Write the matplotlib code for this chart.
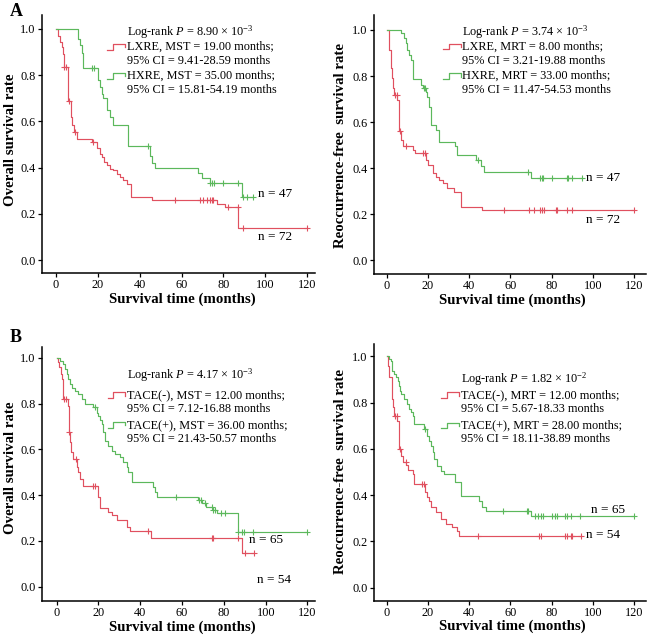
import numpy as np
import matplotlib
matplotlib.use('Agg')
import matplotlib.pyplot as plt

plt.rcParams['font.family'] = ['Liberation Serif', 'DejaVu Serif']
plt.rcParams['mathtext.fontset'] = 'custom'
plt.rcParams['mathtext.rm'] = 'Liberation Serif'
plt.rcParams['mathtext.it'] = 'Liberation Serif:italic'
plt.rcParams['mathtext.bf'] = 'Liberation Serif:bold'

# ---------------- data ----------------
# Panel A left: overall survival, LXRE (red) / HXRE (green)
a_os_lx_t = [0, 1.0, 1.9, 2.7, 3.2, 3.8, 5.9, 7.0, 7.5, 8.6, 9.9, 17.0, 19.4, 21.0, 21.8, 22.9, 24.2, 25.8,
             27.4, 29.0, 30.6, 32.2, 33.8, 35.9, 45.7, 76.8, 80.8, 87.0]
a_os_lx_s = [1.0, 0.97, 0.944, 0.92, 0.89, 0.835, 0.686, 0.62, 0.585, 0.555, 0.525, 0.51, 0.485, 0.46, 0.446,
             0.424, 0.41, 0.395, 0.388, 0.374, 0.36, 0.345, 0.33, 0.273, 0.258, 0.243, 0.228, 0.137]
a_os_lx_cens = [4.0, 5.0, 6.4, 9.1, 17.8, 57.0, 68.8, 70.4, 72.3, 73.6, 74.4, 75.2, 82.4, 86.9, 89.6, 120]
a_os_lx_end = 120

a_os_hx_t = [0, 10.4, 11.5, 12.3, 13.1, 20.2, 21.0, 21.8, 22.6, 24.2, 25.8, 27.4, 34.3, 44.9, 45.7, 47.3,
             68.0, 70.0, 73.6, 88.8]
a_os_hx_s = [1.0, 0.955, 0.93, 0.895, 0.83, 0.78, 0.75, 0.72, 0.70, 0.65, 0.62, 0.585, 0.495, 0.45, 0.42,
             0.40, 0.378, 0.354, 0.332, 0.274]
a_os_hx_cens = [17.0, 18.3, 44.1, 73.6, 74.7, 75.7, 79.7, 87.2, 89.2, 91.1, 94.3]
a_os_hx_end = 94.3

# Panel A right: recurrence-free survival
a_rfs_lx_t = [0, 1.1, 1.9, 2.7, 3.1, 3.6, 5.2, 6.0, 7.1, 8.1, 12.5, 13.6, 18.9, 20.1, 22.2, 23.8, 25.4,
              27.5, 29.4, 32.7, 35.9, 46.4]
a_rfs_lx_s = [1.0, 0.913, 0.834, 0.79, 0.747, 0.718, 0.696, 0.559, 0.522, 0.494, 0.479, 0.465, 0.436,
              0.414, 0.378, 0.363, 0.349, 0.334, 0.313, 0.298, 0.23, 0.216]
a_rfs_lx_cens = [4.0, 4.9, 6.5, 9.2, 17.8, 18.4, 56.9, 69.0, 71.5, 74.4, 75.5, 76.3, 82.0, 82.8, 87.7,
                 90.1, 120]
a_rfs_lx_end = 120

a_rfs_hx_t = [0, 6.8, 8.4, 9.2, 10.0, 10.8, 11.6, 12.5, 12.9, 16.8, 17.8, 18.9, 19.7, 20.5, 21.3, 21.7,
              23.8, 25.4, 33.2, 34.3, 43.5, 45.6, 47.2, 69.9]
a_rfs_hx_s = [1.0, 0.986, 0.964, 0.942, 0.913, 0.891, 0.87, 0.841, 0.787, 0.761, 0.747, 0.732, 0.71,
              0.667, 0.631, 0.588, 0.566, 0.515, 0.494, 0.457, 0.435, 0.407, 0.385, 0.356]
a_rfs_hx_cens = [17.9, 18.5, 44.3, 68.5, 74.5, 75.2, 76.0, 80.0, 87.3, 88.2, 89.7, 94.6]
a_rfs_hx_end = 94.6

# Panel B left: overall survival, TACE(-) (red) / TACE(+) (green)
b_os_neg_t = [0, 0.8, 1.3, 1.9, 2.4, 3.2, 5.3, 5.8, 6.4, 6.9, 7.7, 9.9, 10.4, 11.2, 12.5, 19.6, 20.7,
              24.7, 26.3, 28.7, 33.5, 35.1, 45.0, 88.5]
b_os_neg_s = [1.0, 0.98, 0.958, 0.93, 0.907, 0.82, 0.79, 0.674, 0.63, 0.587, 0.557, 0.521, 0.499, 0.47,
              0.44, 0.39, 0.345, 0.328, 0.313, 0.291, 0.262, 0.245, 0.215, 0.147]
b_os_neg_cens = [3.5, 4.6, 6.1, 9.2, 17.6, 18.5, 43.9, 74.2, 75.0, 87.0, 90.2, 94.3]
b_os_neg_end = 94.3

b_os_pos_t = [0, 1.6, 3.2, 4.0, 4.8, 5.6, 6.4, 7.2, 8.8, 10.4, 12.0, 13.6, 17.6, 19.1, 19.9, 20.7, 21.5,
              22.3, 23.1, 24.7, 26.3, 27.9, 30.3, 31.9, 33.5, 34.3, 35.9, 46.3, 47.1, 47.9, 67.8, 69.4,
              71.5, 75.0, 76.6, 87.0]
b_os_pos_s = [1.0, 0.987, 0.972, 0.95, 0.929, 0.907, 0.885, 0.87, 0.856, 0.84, 0.82, 0.80, 0.783, 0.76,
              0.747, 0.73, 0.71, 0.674, 0.638, 0.616, 0.594, 0.58, 0.565, 0.543, 0.521, 0.50, 0.456,
              0.434, 0.412, 0.393, 0.378, 0.364, 0.35, 0.335, 0.32, 0.237]
b_os_pos_cens = [18.4, 57.0, 68.1, 68.9, 71.2, 74.2, 75.0, 75.8, 78.5, 80.6, 87.0, 88.6, 89.7, 94.1, 120]
b_os_pos_end = 120

# Panel B right: recurrence-free survival
b_rfs_neg_t = [0, 0.8, 1.3, 2.4, 2.7, 3.1, 3.6, 5.2, 6.0, 7.1, 8.1, 9.5, 10.5, 12.5, 13.3, 18.6, 19.7,
               20.5, 21.7, 24.0, 26.2, 28.6, 31.5, 34.3, 35.1]
b_rfs_neg_s = [1.0, 0.96, 0.909, 0.859, 0.816, 0.78, 0.744, 0.722, 0.60, 0.571, 0.542, 0.53, 0.51, 0.491,
               0.448, 0.412, 0.39, 0.376, 0.35, 0.326, 0.297, 0.275, 0.263, 0.246, 0.225]
b_rfs_neg_cens = [4.0, 4.9, 6.5, 9.2, 17.3, 18.3, 44.3, 74.1, 74.7, 86.5, 87.5, 89.2, 89.8, 94.3]
b_rfs_neg_end = 94.3

b_rfs_pos_t = [0, 1.3, 1.9, 2.7, 3.6, 4.4, 5.5, 6.0, 6.5, 7.1, 8.4, 9.7, 10.8, 12.0, 12.9, 13.3, 18.1,
               19.7, 20.5, 21.3, 22.2, 23.0, 24.6, 26.2, 27.8, 33.2, 35.9, 44.8, 46.4, 48.0, 69.9]
b_rfs_pos_s = [1.0, 0.988, 0.981, 0.938, 0.924, 0.909, 0.895, 0.873, 0.852, 0.837, 0.816, 0.794, 0.772,
               0.758, 0.744, 0.707, 0.686, 0.657, 0.635, 0.614, 0.585, 0.556, 0.527, 0.506, 0.491, 0.455,
               0.398, 0.376, 0.347, 0.333, 0.311]
b_rfs_pos_cens = [18.5, 56.6, 68.0, 68.8, 72.0, 73.5, 74.8, 76.0, 80.0, 81.5, 82.8, 86.5, 87.3, 89.2,
                  93.8, 120]
b_rfs_pos_end = 120

x_ticks = [0, 20, 40, 60, 80, 100, 120]
y_ticks = [0.0, 0.2, 0.4, 0.6, 0.8, 1.0]

# legend texts
a_os_text = ["Log-rank $\\mathit{P}$ = 8.90 × 10$^{-3}$",
             "LXRE, MST = 19.00 months;", "95% CI = 9.41-28.59 months",
             "HXRE, MST = 35.00 months;", "95% CI = 15.81-54.19 months"]
a_rfs_text = ["Log-rank $\\mathit{P}$ = 3.74 × 10$^{-3}$",
              "LXRE, MRT = 8.00 months;", "95% CI = 3.21-19.88 months",
              "HXRE, MRT = 33.00 months;", "95% CI = 11.47-54.53 months"]
b_os_text = ["Log-rank $\\mathit{P}$ = 4.17 × 10$^{-3}$",
             "TACE(-), MST = 12.00 months;", "95% CI = 7.12-16.88 months",
             "TACE(+), MST = 36.00 months;", "95% CI = 21.43-50.57 months"]
b_rfs_text = ["Log-rank $\\mathit{P}$ = 1.82 × 10$^{-2}$",
              "TACE(-), MRT = 12.00 months;", "95% CI = 5.67-18.33 months",
              "TACE(+), MRT = 28.00 months;", "95% CI = 18.11-38.89 months"]

RED = '#e0505f'
GREEN = '#5cb85c'

fig = plt.figure(figsize=(6.48, 6.38), dpi=100)


def add_axes(l, t, r, b):
    return fig.add_axes([l / 648, 1 - b / 638, (r - l) / 648, (b - t) / 638])


def km(ax, t, s, end, cens, color):
    t = np.asarray(t, float)
    s = np.asarray(s, float)
    tt = np.append(t, end)
    ss = np.append(s, s[-1])
    ax.step(tt, ss, where='post', color=color, lw=0.85, zorder=3)
    c = np.asarray(cens, float)
    idx = np.searchsorted(t, c, side='right') - 1
    ax.plot(c, s[idx], ls='none', marker='+', ms=4.5, mew=0.8, color=color, zorder=4)


def style(ax, xlim, ylim, ylabel, ylab_xy, xlab_xy):
    ax.set_xlim(*xlim)
    ax.set_ylim(*ylim)
    for sp in ['top', 'right']:
        ax.spines[sp].set_visible(False)
    for sp in ['left', 'bottom']:
        ax.spines[sp].set_linewidth(1.1)
    ax.set_xticks(x_ticks)
    ax.set_yticks(y_ticks)
    ax.set_yticklabels([f"{v:.1f}" for v in y_ticks])
    ax.tick_params(direction='out', length=3.0, width=0.9, labelsize=8.8, pad=1.5)
    ax.set_ylabel(ylabel, fontsize=10.7, fontweight='bold', va='center', ha='center')
    ax.yaxis.set_label_coords(*ylab_xy)
    ax.set_xlabel("Survival time (months)", fontsize=10.7, fontweight='bold', va='center', ha='center')
    ax.xaxis.set_label_coords(*xlab_xy)


def legend(ax, texts, tx, sx0, sx1, rows):
    for txt, y in zip(texts, rows):
        ax.text(tx, y, txt, transform=ax.transAxes, fontsize=8.8, va='center', ha='left')
    d = 0.011
    for y, col in [(rows[1], RED), (rows[3], GREEN)]:
        xm = sx0 + 0.3 * (sx1 - sx0)
        ax.plot([sx0, xm, xm, sx1, sx1], [y - d, y - d, y + d, y + d, y - 0.2 * d],
                transform=ax.transAxes, color=col, lw=0.9, clip_on=False)


# ---- A left
ax1 = add_axes(42, 15, 315, 273)
km(ax1, a_os_lx_t, a_os_lx_s, a_os_lx_end, a_os_lx_cens, RED)
km(ax1, a_os_hx_t, a_os_hx_s, a_os_hx_end, a_os_hx_cens, GREEN)
style(ax1, (-6.7, 123.8), (-0.056, 1.06), "Overall survival rate", (-0.117, 0.516), (0.515, -0.102))
legend(ax1, a_os_text, 0.31, 0.239, 0.304, [0.933, 0.877, 0.822, 0.764, 0.709])
ax1.text(96.6, 0.287, "n = 47", fontsize=9.5, va='center')
ax1.text(96.6, 0.10, "n = 72", fontsize=9.5, va='center')

# ---- A right
ax2 = add_axes(374, 15, 645.7, 274)
km(ax2, a_rfs_lx_t, a_rfs_lx_s, a_rfs_lx_end, a_rfs_lx_cens, RED)
km(ax2, a_rfs_hx_t, a_rfs_hx_s, a_rfs_hx_end, a_rfs_hx_cens, GREEN)
style(ax2, (-6.2, 125.7), (-0.06, 1.065), "Reoccurrence-free  survival rate", (-0.123, 0.498),
      (0.509, -0.100))
legend(ax2, a_rfs_text, 0.325, 0.255, 0.319, [0.933, 0.878, 0.822, 0.764, 0.710])
ax2.text(96.6, 0.356, "n = 47", fontsize=9.5, va='center')
ax2.text(96.6, 0.175, "n = 72", fontsize=9.5, va='center')

# ---- B left
ax3 = add_axes(42, 347, 315, 600.7)
km(ax3, b_os_neg_t, b_os_neg_s, b_os_neg_end, b_os_neg_cens, RED)
km(ax3, b_os_pos_t, b_os_pos_s, b_os_pos_end, b_os_pos_cens, GREEN)
style(ax3, (-7.0, 123.6), (-0.061, 1.047), "Overall survival rate", (-0.117, 0.523), (0.515, -0.103))
legend(ax3, b_os_text, 0.31, 0.243, 0.304, [0.887, 0.811, 0.756, 0.693, 0.637])
ax3.text(92.2, 0.205, "n = 65", fontsize=9.5, va='center')
ax3.text(95.7, 0.031, "n = 54", fontsize=9.5, va='center')

# ---- B right
ax4 = add_axes(374, 344, 645.7, 600.7)
km(ax4, b_rfs_neg_t, b_rfs_neg_s, b_rfs_neg_end, b_rfs_neg_cens, RED)
km(ax4, b_rfs_pos_t, b_rfs_pos_s, b_rfs_pos_end, b_rfs_pos_cens, GREEN)
style(ax4, (-6.2, 125.7), (-0.056, 1.053), "Reoccurrence-free  survival rate", (-0.123, 0.504),
      (0.509, -0.100))
legend(ax4, b_rfs_text, 0.319, 0.248, 0.313, [0.864, 0.801, 0.747, 0.682, 0.630])
ax4.text(99.0, 0.337, "n = 65", fontsize=9.5, va='center')
ax4.text(96.6, 0.228, "n = 54", fontsize=9.5, va='center')

fig.text(10 / 648, 1 - 12 / 638, "A", fontsize=13, fontweight='bold', va='center', ha='left')
fig.text(10 / 648, 1 - 337 / 638, "B", fontsize=13, fontweight='bold', va='center', ha='left')

fig.savefig("out.png", dpi=100)
